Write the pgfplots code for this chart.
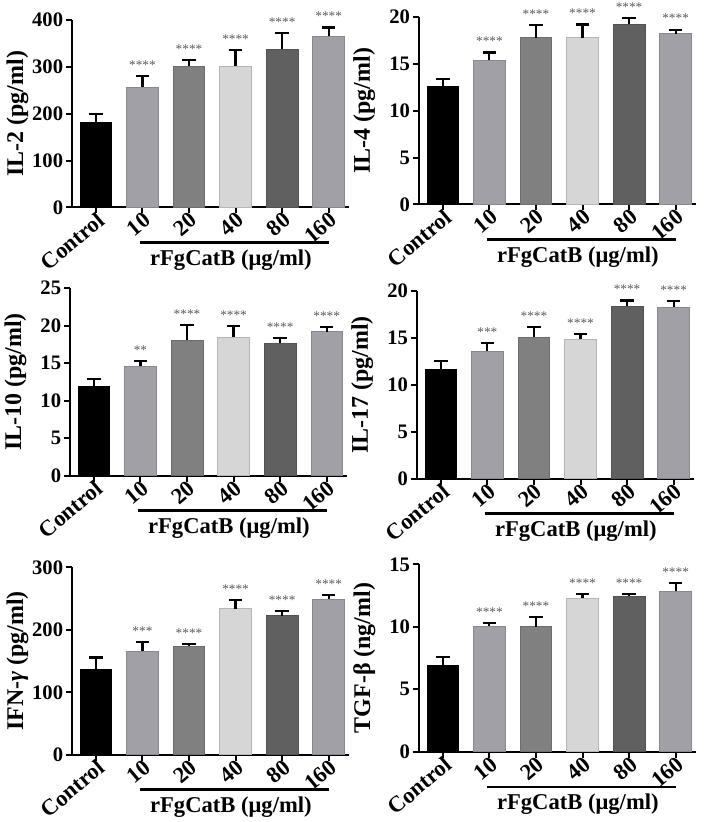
\documentclass[border=0pt]{standalone}
\usepackage{pgfplots}
\pgfplotsset{compat=1.18}
\usepackage{pgfplotstable}
\usepackage{fontspec}
\setmainfont{Liberation Serif}
\definecolor{cA}{RGB}{0,0,0}
\definecolor{cB}{RGB}{161,160,167}
\definecolor{cC}{RGB}{128,128,128}
\definecolor{cD}{RGB}{214,214,214}
\definecolor{cE}{RGB}{96,96,96}
\definecolor{cF}{RGB}{161,160,167}
\newcommand{\lab}{\bfseries\fontsize{15.5}{17}\selectfont}
\newcommand{\xlab}{\bfseries\fontsize{17}{19}\selectfont}
\newcommand{\ylab}{\bfseries\fontsize{18}{20}\selectfont}

\pgfplotstableread{
x y e s
0 182 18 n
1 257 23 ****
2 301 14 ****
3 302 33 ****
4 338 34 ****
5 365 19 ****
}\tILii
\pgfplotstableread{
x y e s
0 12.6 0.75 n
1 15.4 0.8 ****
2 17.8 1.3 ****
3 17.8 1.4 ****
4 19.2 0.7 ****
5 18.2 0.45 ****
}\tILiv
\pgfplotstableread{
x y e s
0 11.95 0.95 n
1 14.56 0.75 **
2 18.1 2.0 ****
3 18.45 1.45 ****
4 17.7 0.6 ****
5 19.2 0.6 ****
}\tILx
\pgfplotstableread{
x y e s
0 11.67 0.9 n
1 13.6 0.85 ***
2 15.1 1.1 ****
3 14.9 0.55 ****
4 18.4 0.6 ****
5 18.3 0.67 ****
}\tILxvii
\pgfplotstableread{
x y e s
0 137 18.6 n
1 165.7 14.8 ***
2 174.2 2.6 ****
3 233.7 13.3 ****
4 222.5 7.5 ****
5 249 6.4 ****
}\tIFN
\pgfplotstableread{
x y e s
0 6.94 0.64 n
1 10.07 0.21 ****
2 10.02 0.74 ****
3 12.27 0.32 ****
4 12.46 0.16 ****
5 12.85 0.67 ****
}\tTGF

\pgfplotsset{panel/.style={anchor=south west, scale only axis, width=208.5pt, height=141pt,
  xmin=-0.514, xmax=5.44, ymin=0, xtick={0,...,5}, xticklabels={Control,10,20,40,80,160},
  axis x line*=bottom, axis y line*=left, axis line style={line width=1.5pt},
  tick style={line width=1.5pt, black}, major tick length=4.5pt, tick align=outside,
  clip=false, tick label style={font=\lab}, /pgf/number format/assume math mode=true,
  xticklabel style={font=\xlab, rotate=40, anchor=north east, inner sep=0pt},
  xticklabel shift=-2pt,
  yticklabel style={inner sep=2pt},
  ylabel style={font=\ylab, at={(axis description cs:-0.197,0.5)}, anchor=center}}}

\newcommand{\onebar}[3]{\addplot[ybar, bar width=0.68, bar shift=0pt, fill=#3, draw=#3!85!black, line width=0.5pt,
  error bars/.cd, y dir=plus, y explicit, error bar style={line width=1.6pt, black},
  error mark options={rotate=90, mark size=5pt, line width=1.6pt, black}]
  table[x=x, y=y, y error=e, restrict expr to domain={\coordindex}{#2:#2}] {#1};}

\newcommand{\panel}[6]{%
\begin{axis}[panel, at={(#1pt,#2pt)}, ymax=#4, ytick={#5}, ylabel={#3}]
\onebar{#6}{0}{cA}
\onebar{#6}{1}{cB}
\onebar{#6}{2}{cC}
\onebar{#6}{3}{cD}
\onebar{#6}{4}{cE}
\onebar{#6}{5}{cF}
\addplot[only marks, mark size=0pt, nodes near coords, point meta=explicit symbolic,
  restrict expr to domain={\coordindex}{1:5},
  nodes near coords style={font=\fontsize{10}{10}\selectfont, text=black!65, anchor=base, yshift=5pt, inner sep=0pt}]
  table[x=x, y expr=\thisrow{y}+\thisrow{e}, meta=s] {#6};
\draw[line width=2.2pt] ([yshift=-26.5pt]axis cs:0.94,0) -- ([yshift=-26.5pt]axis cs:5.01,0);
\node[font=\xlab] at ([yshift=-39.5pt]axis cs:2.9,0) {rFgCatB (μg/ml)};
\end{axis}}

\begin{document}
\begin{tikzpicture}
\path (0pt,0pt) rectangle (525.75pt,616.5pt);
\panel{50.25}{460.5}{IL-2 (pg/ml)}{400}{0,100,...,400}{\tILii}
\panel{311.25}{462.75}{IL-4 (pg/ml)}{20}{0,5,...,20}{\tILiv}
\panel{48.75}{258.75}{IL-10 (pg/ml)}{25}{0,5,...,25}{\tILx}
\panel{309.75}{256.5}{IL-17 (pg/ml)}{20}{0,5,...,20}{\tILxvii}
\panel{50.25}{48.75}{IFN-\textit{γ} (pg/ml)}{300}{0,100,200,300}{\tIFN}
\panel{311.25}{51}{TGF-β (ng/ml)}{15}{0,5,10,15}{\tTGF}
\end{tikzpicture}
\end{document}
